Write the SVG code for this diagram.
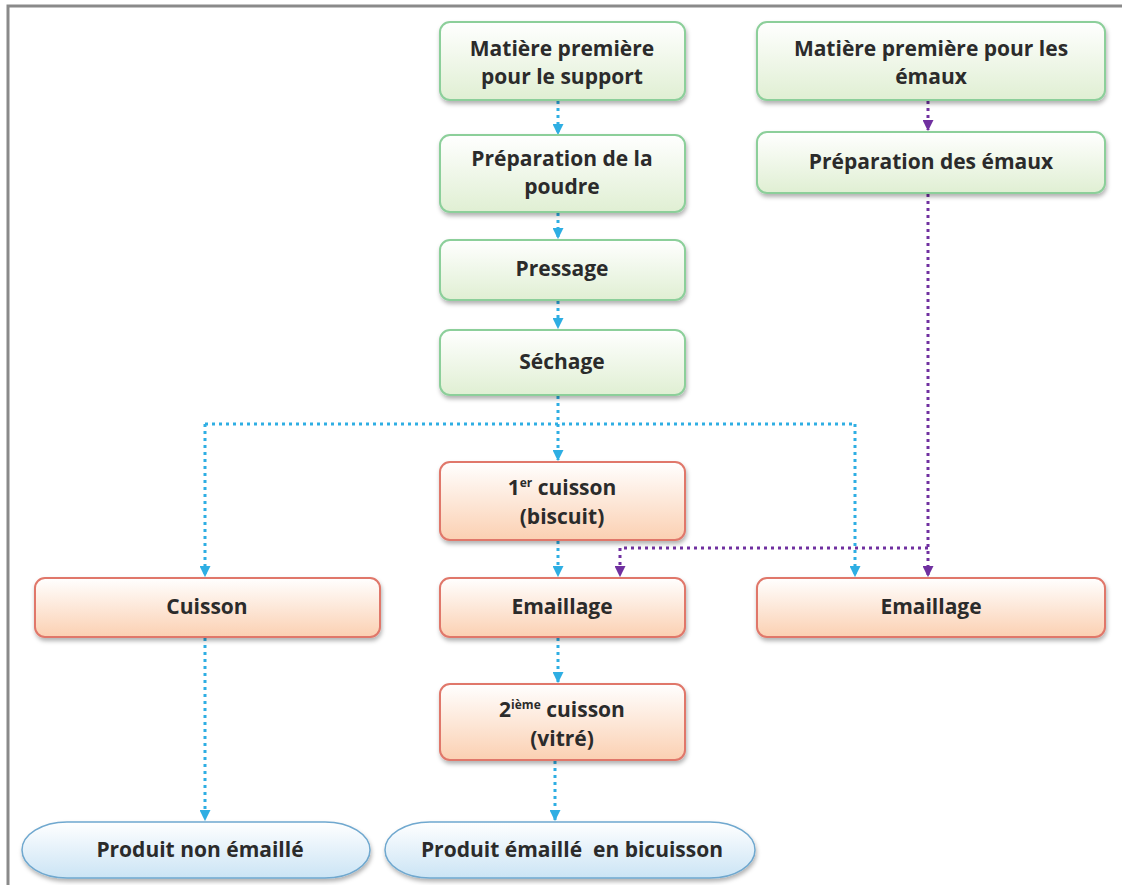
<svg xmlns="http://www.w3.org/2000/svg" width="1122" height="885" viewBox="0 0 1122 885">
<defs>
<linearGradient id="gGreen" x1="0" y1="0" x2="0" y2="1"><stop offset="0" stop-color="#ffffff"/><stop offset="1" stop-color="#e0efd3"/></linearGradient>
<linearGradient id="gRed" x1="0" y1="0" x2="0" y2="1"><stop offset="0" stop-color="#ffffff"/><stop offset="1" stop-color="#fbd0b2"/></linearGradient>
<linearGradient id="gBlue" x1="0" y1="0" x2="0" y2="1"><stop offset="0" stop-color="#ffffff"/><stop offset="1" stop-color="#cbe4f5"/></linearGradient>
<filter id="sh" x="-10%" y="-20%" width="120%" height="150%"><feDropShadow dx="1" dy="3" stdDeviation="2" flood-color="#000" flood-opacity="0.3"/></filter>
<marker id="aB" viewBox="0 0 10 10" refX="9" refY="5" markerWidth="11" markerHeight="11" markerUnits="userSpaceOnUse" orient="auto"><path d="M0,0 L10,5 L0,10 z" fill="#2eaee3"/></marker>
<marker id="aP" viewBox="0 0 10 10" refX="9" refY="5" markerWidth="11" markerHeight="11" markerUnits="userSpaceOnUse" orient="auto"><path d="M0,0 L10,5 L0,10 z" fill="#7030a0"/></marker>
</defs>
<style>
.g{fill:url(#gGreen);stroke:#8ccf9a;stroke-width:2;filter:url(#sh)}
.r{fill:url(#gRed);stroke:#e0776a;stroke-width:2;filter:url(#sh)}
.b{fill:url(#gBlue);stroke:#6fa8cf;stroke-width:1.5;filter:url(#sh)}
text{font-family:"Open Sans","Liberation Sans",sans-serif;font-weight:bold;font-size:21px;fill:#2b2b2b;text-anchor:middle}
.bl{fill:none;stroke:#2eaee3;stroke-width:3;stroke-dasharray:3 4}
.pu{fill:none;stroke:#7030a0;stroke-width:3;stroke-dasharray:3 4}
.sup{font-size:12px}
</style>
<rect x="0" y="0" width="1122" height="885" fill="#ffffff"/>
<path d="M8,885 L8,6 L1122,6" fill="none" stroke="#8a8a8a" stroke-width="3"/>

<g id="connectors">
<path class="bl" d="M558,101 V134" marker-end="url(#aB)"/>
<path class="bl" d="M558,213 V238" marker-end="url(#aB)"/>
<path class="bl" d="M558,301 V328" marker-end="url(#aB)"/>
<path class="bl" d="M558,396 V460" marker-end="url(#aB)"/>
<path class="bl" d="M205,424 H855"/>
<path class="bl" d="M205,424 V576" marker-end="url(#aB)"/>
<path class="bl" d="M855,424 V576" marker-end="url(#aB)"/>
<path class="bl" d="M558,541 V576" marker-end="url(#aB)"/>
<path class="bl" d="M558,638 V682" marker-end="url(#aB)"/>
<path class="bl" d="M205,638 V820" marker-end="url(#aB)"/>
<path class="bl" d="M555,761 V820" marker-end="url(#aB)"/>
<path class="pu" d="M928,101 V130" marker-end="url(#aP)"/>
<path class="pu" d="M928,194 V576" marker-end="url(#aP)"/>
<path class="pu" d="M928,548 H620 V576" marker-end="url(#aP)"/>
</g>

<g id="n_mp_support"><rect class="g" x="440" y="22" width="245" height="78" rx="10"/><text x="562" y="56">Matière première</text><text x="562" y="84">pour le support</text></g>
<g id="n_prep_poudre"><rect class="g" x="440" y="135" width="245" height="77" rx="10"/><text x="562" y="166">Préparation de la</text><text x="562" y="194">poudre</text></g>
<g id="n_pressage"><rect class="g" x="440" y="240" width="245" height="60" rx="10"/><text x="562" y="276">Pressage</text></g>
<g id="n_sechage"><rect class="g" x="440" y="330" width="245" height="65" rx="10"/><text x="562" y="369">Séchage</text></g>
<g id="n_mp_emaux"><rect class="g" x="757" y="22" width="348" height="78" rx="10"/><text x="931" y="56">Matière première pour les</text><text x="931" y="84">émaux</text></g>
<g id="n_prep_emaux"><rect class="g" x="757" y="132" width="348" height="61" rx="10"/><text x="931" y="169">Préparation des émaux</text></g>

<g id="n_cuisson1"><rect class="r" x="440" y="462" width="245" height="78" rx="10"/><text x="562" y="495">1<tspan class="sup" dy="-8">er</tspan><tspan dy="8"> cuisson</tspan></text><text x="562" y="524">(biscuit)</text></g>
<g id="n_cuisson"><rect class="r" x="35" y="578" width="345" height="59" rx="10"/><text x="207" y="614">Cuisson</text></g>
<g id="n_email1"><rect class="r" x="440" y="578" width="245" height="59" rx="10"/><text x="562" y="614">Emaillage</text></g>
<g id="n_email2"><rect class="r" x="757" y="578" width="348" height="59" rx="10"/><text x="931" y="614">Emaillage</text></g>
<g id="n_cuisson2"><rect class="r" x="440" y="684" width="245" height="76" rx="10"/><text x="562" y="717">2<tspan class="sup" dy="-8">ième</tspan><tspan dy="8"> cuisson</tspan></text><text x="562" y="746">(vitré)</text></g>

<g id="n_prod_non"><rect class="b" x="22" y="822" width="348" height="56" rx="45" ry="28"/><text x="200" y="857">Produit non émaillé</text></g>
<g id="n_prod_bi"><rect class="b" x="385" y="822" width="370" height="56" rx="45" ry="28"/><text x="572" y="857">Produit émaillé&#160; en bicuisson</text></g>
</svg>
